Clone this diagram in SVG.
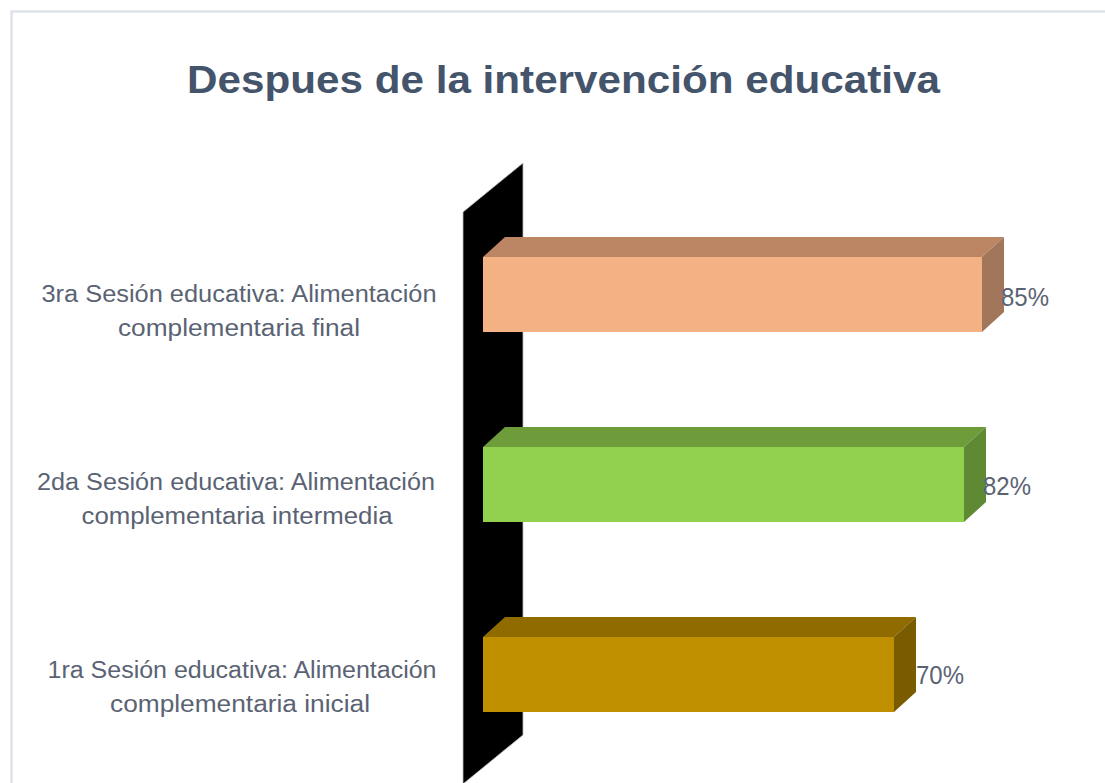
<svg xmlns="http://www.w3.org/2000/svg" width="1105" height="783" viewBox="0 0 1105 783">
  <style>
    .title { font-family: "Liberation Sans", Arial, sans-serif; font-weight: bold; font-size: 39px; fill: #44546A; }
    .cat { font-family: "Liberation Sans", Arial, sans-serif; font-size: 23px; fill: #5A6373; text-anchor: middle; }
    .val { font-family: "Liberation Sans", Arial, sans-serif; font-size: 26px; fill: #5A6373; }
  </style>
  <rect x="0" y="0" width="1105" height="783" fill="#FFFFFF"/>
  <rect x="11.5" y="11.5" width="1200" height="900" fill="#FFFFFF" stroke="#DEE2E9" stroke-width="2.5"/>
  <text class="title" x="187" y="93" textLength="753" lengthAdjust="spacingAndGlyphs">Despues de la intervención educativa</text>

  <g id="wall">
    <polygon points="463,212 523,163 523,735 463,784" fill="#000000" stroke="#BFBFBF" stroke-width="0.8"/>
  </g>

  <g id="bar3">
    <polygon points="483,257 505,237 1004,237 982,257" fill="#BC8564"/>
    <polygon points="982,257 1004,237 1004,312 982,332" fill="#A2765A"/>
    <rect x="483" y="257" width="499" height="75" fill="#F4B183"/>
    <text class="val" x="1001" y="306" textLength="48" lengthAdjust="spacingAndGlyphs">85%</text>
  </g>
  <g id="bar2">
    <polygon points="483,447 505,427 986,427 964,447" fill="#6E9C3B"/>
    <polygon points="964,447 986,427 986,502 964,522" fill="#5F8A33"/>
    <rect x="483" y="447" width="481" height="75" fill="#92D050"/>
    <text class="val" x="983" y="495" textLength="48" lengthAdjust="spacingAndGlyphs">82%</text>
  </g>
  <g id="bar1">
    <polygon points="483,637 505,617 916,617 894,637" fill="#8F6B00"/>
    <polygon points="894,637 916,617 916,692 894,712" fill="#7A5C00"/>
    <rect x="483" y="637" width="411" height="75" fill="#BF8F00"/>
    <text class="val" x="916" y="684" textLength="48" lengthAdjust="spacingAndGlyphs">70%</text>
  </g>

  <g id="label3">
    <text class="cat" x="239" y="302" textLength="395" lengthAdjust="spacingAndGlyphs">3ra Sesión educativa: Alimentación</text>
    <text class="cat" x="239" y="336" textLength="242" lengthAdjust="spacingAndGlyphs">complementaria final</text>
  </g>
  <g id="label2">
    <text class="cat" x="236" y="490" textLength="398" lengthAdjust="spacingAndGlyphs">2da Sesión educativa: Alimentación</text>
    <text class="cat" x="237" y="524" textLength="311" lengthAdjust="spacingAndGlyphs">complementaria intermedia</text>
  </g>
  <g id="label1">
    <text class="cat" x="242" y="678" textLength="389" lengthAdjust="spacingAndGlyphs">1ra Sesión educativa: Alimentación</text>
    <text class="cat" x="240" y="712" textLength="260" lengthAdjust="spacingAndGlyphs">complementaria inicial</text>
  </g>
</svg>
